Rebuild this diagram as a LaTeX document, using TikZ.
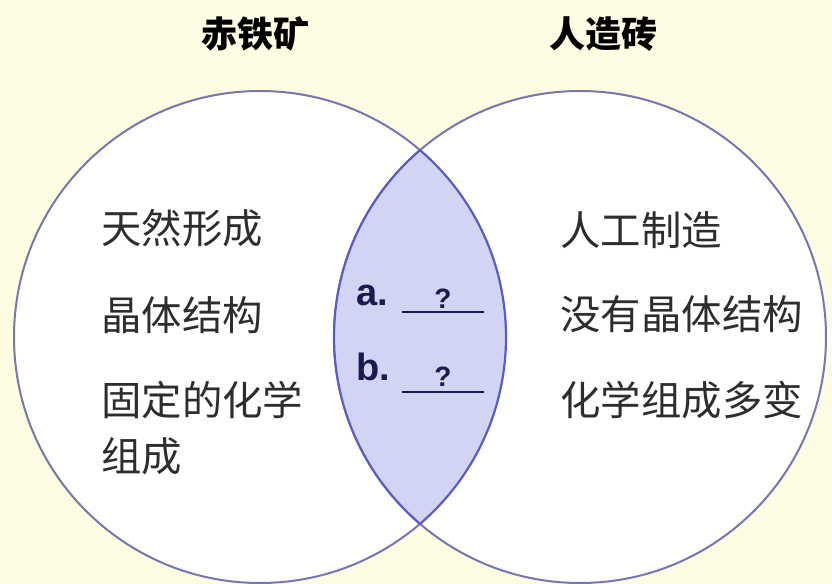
\documentclass[tikz,border=0pt]{standalone}
\usepackage{fontspec}
\usepackage{xcolor}
\usepackage{tikz}
\newfontfamily\cjk{Noto Sans CJK SC}
\setsansfont{Liberation Sans}
\definecolor{paper}{RGB}{254,252,226}
\definecolor{ringline}{RGB}{118,118,178}
\definecolor{lensfill}{RGB}{210,212,243}
\definecolor{lensline}{RGB}{88,92,200}
\definecolor{inktext}{RGB}{45,45,45}
\definecolor{blankline}{RGB}{24,26,80}
\tikzset{
  heading/.style={inner sep=0pt, font=\cjk\bfseries\fontsize{18}{22}\selectfont, text=black},
  fact/.style={inner sep=0pt, anchor=west, align=left,
    font=\cjk\fontsize{20.2}{28}\selectfont, text=inktext},
  tag/.style={inner sep=0pt, anchor=base west,
    font=\sffamily\bfseries\fontsize{19}{22}\selectfont, text=blankline},
  query/.style={inner sep=0pt, anchor=base,
    font=\sffamily\bfseries\fontsize{14}{16}\selectfont, text=blankline},
  ring/.style={draw=ringline, line width=1pt, fill=white},
  blank/.style={draw=blankline, line width=1.3pt}
}

\begin{document}
\begin{tikzpicture}[x=0.5pt,y=-0.5pt]
    \useasboundingbox (0,0) rectangle (832,584);
    \fill[paper] (0,0) rectangle (832,584);

    % the two sets
    \path[ring] (260,337) circle[radius=123pt];
    \path[ring] (580,337) circle[radius=123pt];
    \begin{scope}
      \clip (260,337) circle[radius=123pt];
      \fill[lensfill] (580,337) circle[radius=123pt];
      \draw[lensline, line width=1.1pt] (580,337) circle[radius=123pt];
    \end{scope}
    \begin{scope}
      \clip (580,337) circle[radius=123pt];
      \draw[lensline, line width=1.1pt] (260,337) circle[radius=123pt];
    \end{scope}

    \node[heading] (hematite) at (255,34) {赤铁矿};
    \node[heading] (brick) at (603,34) {人造砖};

    \node[fact] (natural) at (101,228) {天然形成};
    \node[fact] (crystal) at (101,315) {晶体结构};
    \node[fact] (fixed) at (101,428) {固定的化学\\组成};

    \node[fact] (made) at (560,230) {人工制造};
    \node[fact] (nocrystal) at (560,314) {没有晶体结构};
    \node[fact] (varied) at (560,400) {化学组成多变};

    % shared properties
    \node[tag] (taga) at (356,305) {a.};
    \node[tag] (tagb) at (356,380) {b.};
    \coordinate (blanka) at (402,312);
    \coordinate (blankb) at (402,392);
    \draw[blank] (blanka) -- ++(82,0);
    \draw[blank] (blankb) -- ++(82,0);
    \node[query] (querya) at (443,308) {?};
    \node[query] (queryb) at (443,386) {?};
  \end{tikzpicture}
\end{document}
